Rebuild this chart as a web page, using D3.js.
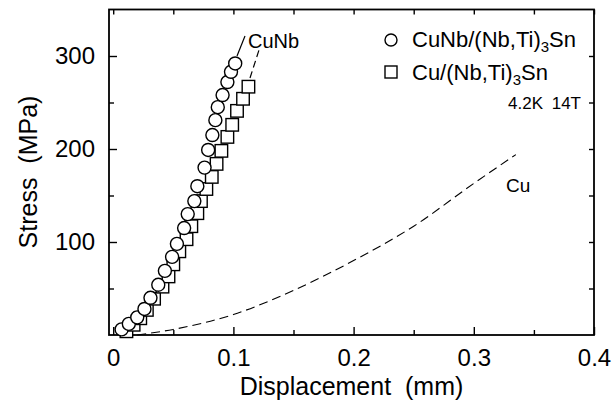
<!DOCTYPE html>
<html>
<head>
<meta charset="utf-8">
<script src="https://cdn.jsdelivr.net/npm/d3@7"></script>
<style>
  body { margin: 0; background: #fff; }
  svg { display: block; font-family: "Liberation Sans", Arial, sans-serif; }
</style>
</head>
<body>
<div class="container"></div>
<script>
// data (displacement in mm, stress in MPa)
const cuNbX = [0.007, 0.013, 0.020, 0.026, 0.031, 0.0375, 0.043, 0.049, 0.053, 0.059, 0.062,
  0.0675, 0.070, 0.076, 0.079, 0.0825, 0.085, 0.087, 0.091, 0.095, 0.098, 0.1015];
const cuNbY = [6, 12, 19, 28, 40, 54, 69, 84, 98, 115, 130, 144, 160, 180, 199, 215, 231, 245,
  258, 272, 283, 292];

const cuX = [0.011, 0.017, 0.0225, 0.028, 0.034, 0.041, 0.046, 0.050, 0.055, 0.061, 0.065,
  0.070, 0.073, 0.0775, 0.082, 0.086, 0.090, 0.095, 0.099, 0.103, 0.108, 0.1125];
const cuY = [4, 11, 18, 27, 39, 52, 63, 76, 90, 103, 117, 131, 144, 157, 170, 184, 198, 213,
  226, 241, 254, 267];

// plain Cu dashed curve
const curveX = [0.02, 0.05, 0.1, 0.15, 0.2, 0.25, 0.3, 0.335];
const curveY = [0, 6, 22, 48, 80, 117, 163, 194];

const xMajor = [0, 0.1, 0.2, 0.3, 0.4];
const xMinor = [0.05, 0.15, 0.25, 0.35];
const yMajor = [100, 200, 300];
const yMinor = [50, 150, 250];

const width = 613;
const height = 408;
const margin = { top: 9.5, bottom: 73, left: 109, right: 19 };

const svg = d3.select(".container")
  .append("svg")
  .attr("width", width)
  .attr("height", height);

const x = d3.scaleLinear()
  .domain([-0.0035, 0.4])
  .range([margin.left, width - margin.right]);

const y = d3.scaleLinear()
  .domain([0, 350])
  .range([height - margin.bottom, margin.top]);

const bottom = height - margin.bottom;
const right = width - margin.right;

// frame
svg.append("rect")
  .attr("x", margin.left)
  .attr("y", margin.top)
  .attr("width", right - margin.left)
  .attr("height", bottom - margin.top)
  .attr("fill", "none")
  .attr("stroke", "#000")
  .attr("stroke-width", 1.8);

// inward ticks, major and minor, on all four sides
function ticks(axisFn, vals, size, pos, labels, pad) {
  const g = svg.append("g")
    .attr("transform", pos)
    .call(axisFn
      .tickValues(vals)
      .tickSize(-size)
      .tickPadding(pad)
      .tickFormat(labels ? (d => d) : ""));
  g.select(".domain").remove();
  g.selectAll("line").attr("stroke-width", 1.4);
  g.selectAll("text").attr("font-size", "24px").attr("fill", "#000");
  return g;
}

ticks(d3.axisBottom(x), xMajor, 8, `translate(0,${bottom})`, true, 14);
ticks(d3.axisBottom(x), xMinor, 5, `translate(0,${bottom})`, false, 0);
ticks(d3.axisTop(x), xMajor.concat(xMinor), 5, `translate(0,${margin.top})`, false, 0);
ticks(d3.axisLeft(y), yMajor, 8, `translate(${margin.left},0)`, true, 14);
ticks(d3.axisLeft(y), yMinor, 5, `translate(${margin.left},0)`, false, 0);
ticks(d3.axisRight(y), yMajor.concat(yMinor), 5, `translate(${right},0)`, false, 0);

// axis titles
svg.append("text")
  .attr("x", 351.5)
  .attr("y", 395)
  .attr("text-anchor", "middle")
  .attr("font-size", "25px")
  .text("Displacement\u00a0\u00a0(mm)");

svg.append("text")
  .attr("transform", "translate(37,172) rotate(-90)")
  .attr("text-anchor", "middle")
  .attr("font-size", "25px")
  .text("Stress\u00a0\u00a0(MPa)");

// Cu dashed curve
svg.append("path")
  .datum(curveX.map((d, i) => [d, curveY[i]]))
  .attr("fill", "none")
  .attr("stroke", "#000")
  .attr("stroke-width", 1.1)
  .attr("stroke-dasharray", "9,5")
  .attr("d", d3.line()
    .x(d => x(d[0]))
    .y(d => y(d[1]))
    .curve(d3.curveMonotoneX));

// squares first, circles drawn over them
const sq = 12.5;
svg.append("g")
  .selectAll("rect")
  .data(cuX.map((d, i) => [d, cuY[i]]))
  .join("rect")
  .attr("x", d => x(d[0]) - sq / 2)
  .attr("y", d => y(d[1]) - sq / 2)
  .attr("width", sq)
  .attr("height", sq)
  .attr("fill", "#fff")
  .attr("stroke", "#000")
  .attr("stroke-width", 1.4);

svg.append("g")
  .selectAll("circle")
  .data(cuNbX.map((d, i) => [d, cuNbY[i]]))
  .join("circle")
  .attr("cx", d => x(d[0]))
  .attr("cy", d => y(d[1]))
  .attr("r", 6.5)
  .attr("fill", "#fff")
  .attr("stroke", "#000")
  .attr("stroke-width", 1.4);

// leader lines and labels
svg.append("line")
  .attr("x1", 237).attr("y1", 56)
  .attr("x2", 245).attr("y2", 36)
  .attr("stroke", "#000").attr("stroke-width", 1.2);
svg.append("line")
  .attr("x1", 250).attr("y1", 78)
  .attr("x2", 259).attr("y2", 50)
  .attr("stroke", "#000").attr("stroke-width", 1.2)
  .attr("stroke-dasharray", "7,4");

svg.append("text")
  .attr("x", 248).attr("y", 48)
  .attr("font-size", "20px")
  .text("CuNb");

svg.append("text")
  .attr("x", 506).attr("y", 192)
  .attr("font-size", "19px")
  .text("Cu");

// legend
svg.append("circle")
  .attr("cx", 391).attr("cy", 40).attr("r", 6)
  .attr("fill", "none").attr("stroke", "#000").attr("stroke-width", 1.4);
svg.append("rect")
  .attr("x", 385).attr("y", 66).attr("width", 12).attr("height", 12)
  .attr("fill", "none").attr("stroke", "#000").attr("stroke-width", 1.4);

const leg1 = svg.append("text").attr("x", 412).attr("y", 47).attr("font-size", "22px");
leg1.append("tspan").text("CuNb/(Nb,Ti)");
leg1.append("tspan").attr("font-size", "15px").attr("dy", 5).text("3");
leg1.append("tspan").attr("dy", -5).text("Sn");

const leg2 = svg.append("text").attr("x", 412).attr("y", 80).attr("font-size", "22px");
leg2.append("tspan").text("Cu/(Nb,Ti)");
leg2.append("tspan").attr("font-size", "15px").attr("dy", 5).text("3");
leg2.append("tspan").attr("dy", -5).text("Sn");

svg.append("text")
  .attr("x", 508).attr("y", 109)
  .attr("font-size", "17px")
  .text("4.2K");
svg.append("text")
  .attr("x", 581).attr("y", 109)
  .attr("text-anchor", "end")
  .attr("font-size", "17px")
  .text("14T");
</script>
</body>
</html>
